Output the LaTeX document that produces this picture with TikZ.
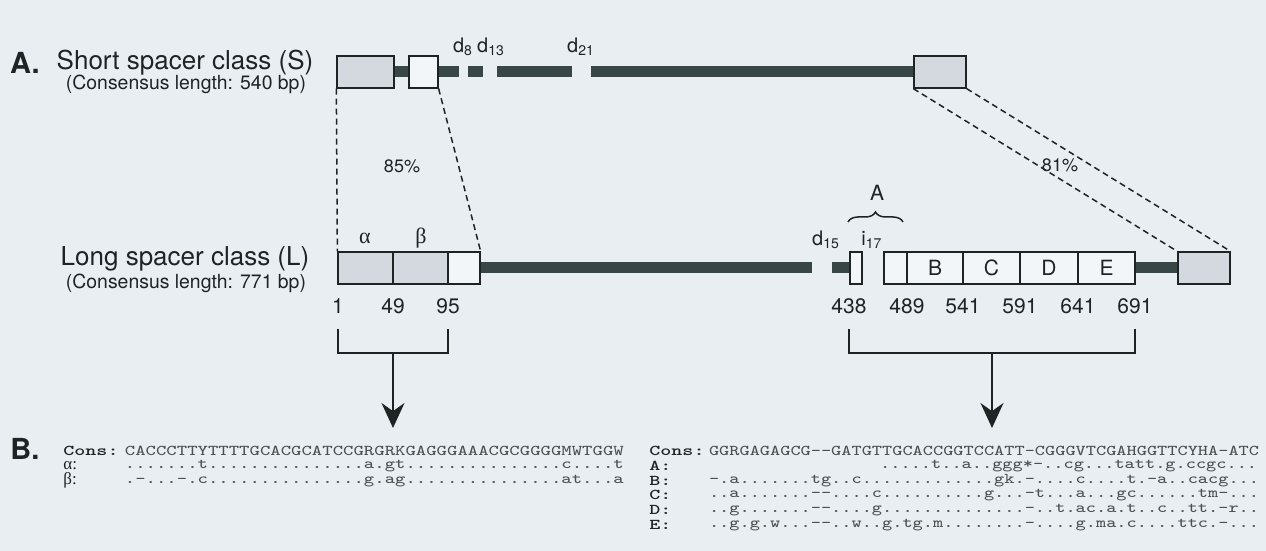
\documentclass[tikz,border=0pt]{standalone}
\usepackage{fontspec}
\setmainfont{TeX Gyre Heros}
\newfontfamily\greekfont{Liberation Serif}
\usepackage{graphicx}
\usepackage{xcolor}
\definecolor{bgpaper}{RGB}{233,238,242}
\definecolor{boxgrey}{RGB}{211,217,222}
\definecolor{boxlight}{RGB}{243,246,248}
\definecolor{barslate}{RGB}{56,70,70}
\definecolor{inkdark}{RGB}{30,36,36}
\usetikzlibrary{arrows.meta,positioning,decorations.pathreplacing}
\newcommand{\seqL}[1]{\scalebox{1.305}[1]{#1}}
\newcommand{\seqR}[1]{\scalebox{1.279}[1]{#1}}
\newcommand{\seqK}[1]{\scalebox{1.4}[1]{#1}}

\begin{document}
\begin{tikzpicture}[x=0.5pt, y=-0.5pt,
  greybox/.style={rectangle, draw=inkdark, line width=0.65pt, fill=boxgrey,
                  minimum height=16pt, inner sep=0pt,
                  font=\fontsize{10.5}{12}\selectfont, text=inkdark},
  lightbox/.style={greybox, fill=boxlight},
  bar/.style={line width=5.5pt, draw=barslate},
  simil/.style={dash pattern=on 3pt off 2pt, line width=0.75pt, draw=inkdark},
  brk/.style={line width=0.75pt, draw=inkdark},
  pointer/.style={-{Stealth[length=12.5pt, width=11.5pt]}, line width=0.75pt, draw=inkdark},
  panel/.style={font=\fontsize{14.5}{16}\selectfont\bfseries, text=inkdark},
  clsname/.style={font=\fontsize{13}{15}\selectfont, text=inkdark},
  clslen/.style={font=\fontsize{9.7}{11}\selectfont, text=inkdark},
  sitelab/.style={font=\fontsize{10}{12}\selectfont, text=inkdark, inner sep=1pt},
  numlab/.style={font=\fontsize{10.5}{12}\selectfont, text=inkdark, inner sep=1pt},
  pctlab/.style={font=\fontsize{9}{11}\selectfont, text=inkdark},
  seqlab/.style={anchor=west, inner sep=0pt, font=\fontsize{7.5}{8}\selectfont\ttfamily\bfseries, text=inkdark},
  seqrow/.style={anchor=west, inner sep=0pt, font=\fontsize{7.5}{8}\selectfont\ttfamily, text=inkdark!80}
]
\fill[bgpaper] (0,0) rectangle (1266,551);
\useasboundingbox (0,0) rectangle (1266,551);

% Panel labels
\node[panel] (pa) at (25,63)  {A.};
\node[panel] (pb) at (25,449) {B.};

% Class names
\node[clsname] (sname) at (185,63)  {Short spacer class (S)};
\node[clslen]  (slen)  at (186,84)  {(Consensus length: 540 bp)};
\node[clsname] (lname) at (185,259) {Long spacer class (L)};
\node[clslen]  (llen)  at (186,283) {(Consensus length: 771 bp)};

% Short spacer boxes
\node[greybox,  minimum width=28.5pt] (s1) at (365.5,72) {};
\node[lightbox, minimum width=14.5pt] (s2) at (423.5,72) {};
\node[greybox,  minimum width=26pt]   (s3) at (940,72)   {};

% Short spacer bar with deletions
\coordinate (sd8a)  at (459,72);
\coordinate (sd8b)  at (468,72);
\coordinate (sd13a) at (483,72);
\coordinate (sd13b) at (497,72);
\coordinate (sd21a) at (572,72);
\coordinate (sd21b) at (591,72);
\draw[bar] (s1.east) -- (s2.west);
\draw[bar] (s2.east) -- (sd8a);
\draw[bar] (sd8b) -- (sd13a);
\draw[bar] (sd13b) -- (sd21a);
\draw[bar] (sd21b) -- (s3.west);
\node[sitelab] (d8)  at (463,47) {d\textsubscript{8}};
\node[sitelab] (d13) at (491,47) {d\textsubscript{13}};
\node[sitelab] (d21) at (581,47) {d\textsubscript{21}};

% Long spacer boxes
\node[greybox,  minimum width=27.5pt] (l1) at (365.5,268) {};
\node[greybox,  minimum width=27.5pt] (l2) at (420.5,268) {};
\node[lightbox, minimum width=16pt]   (l3) at (464,268)   {};
\node[lightbox, minimum width=6pt]    (li) at (856,268)   {};
\node[lightbox, minimum width=11.5pt] (la) at (895.5,268) {};
\node[lightbox, minimum width=28pt]   (lb) at (935,268)   {B};
\node[lightbox, minimum width=28.5pt] (lc) at (991.5,268) {C};
\node[lightbox, minimum width=29pt]   (ld) at (1049,268)  {D};
\node[lightbox, minimum width=28.5pt] (le) at (1106.5,268) {E};
\node[greybox,  minimum width=26pt]   (lf) at (1204,268)  {};

% Long spacer bar
\coordinate (ld15a) at (812,268);
\coordinate (ld15b) at (832,268);
\draw[bar] (l3.east) -- (ld15a);
\draw[bar] (ld15b) -- (li.west);
\draw[bar] (le.east) -- (lf.west);
\node[sitelab] (d15) at (826,240) {d\textsubscript{15}};
\node[sitelab] (i17) at (872,240) {i\textsubscript{17}};
\node[sitelab, font=\fontsize{11}{12}\selectfont\greekfont] (alab) at (365,238) {α};
\node[sitelab, font=\fontsize{11}{12}\selectfont\greekfont] (blab) at (421,238) {β};

% Region A brace
\coordinate (bra) at (848,222);
\coordinate (brb) at (903,222);
\draw[brk, decorate, decoration={brace, amplitude=5pt}] (bra) -- (brb);
\node[numlab] (rega) at (877,193) {A};

% Similarity links
\draw[simil] (s1.south west) -- (l1.north west);
\draw[simil] (s2.south east) -- (l3.north east);
\draw[simil] (s3.south west) -- (lf.north west);
\draw[simil] (s3.south east) -- (lf.north east);
\node[pctlab] (p85) at (402,166)  {85\%};
\node[pctlab] (p81) at (1060,165) {81\%};

% Positions
\node[numlab] (n1)   at (338,306)  {1};
\node[numlab] (n49)  at (393,306)  {49};
\node[numlab] (n95)  at (448,306)  {95};
\node[numlab] (n438) at (849,306)  {438};
\node[numlab] (n489) at (907,306)  {489};
\node[numlab] (n541) at (963,306)  {541};
\node[numlab] (n591) at (1020,306) {591};
\node[numlab] (n641) at (1078,306) {641};
\node[numlab] (n691) at (1135,306) {691};

% Brackets and arrows
\coordinate (lbkl) at (338,329);
\coordinate (lbkr) at (448,329);
\coordinate (lbkm) at (393,353);
\coordinate (ltip) at (393,428);
\draw[brk] (lbkl) |- (lbkm) -| (lbkr);
\draw[pointer] (lbkm) -- (ltip);
\coordinate (rbkl) at (849,329);
\coordinate (rbkr) at (1135,329);
\coordinate (rbkm) at (992,353);
\coordinate (rtip) at (992,428);
\draw[brk] (rbkl) |- (rbkm) -| (rbkr);
\draw[pointer] (rbkm) -- (rtip);

% Alignment, left block
\node[seqlab] (lcl) at (63,451)   {\seqK{Cons:}};
\node[seqlab, font=\fontsize{8.5}{9}\selectfont\greekfont] (lal) at (63,465.8) {α:};
\node[seqlab, font=\fontsize{8.5}{9}\selectfont\greekfont] (lbl) at (63,480.6) {β:};
\node[seqrow] (lcs) at (124.5,451)   {\seqL{CACCCTTYTTTTGCACGCATCCGRGRKGAGGGAAACGCGGGGMWTGGW}};
\node[seqrow] (las) at (124.5,465.8) {\seqL{.......t...............a.gt...............c....t}};
\node[seqrow] (lbs) at (124.5,480.6) {\seqL{.-...-.c...............g.ag...............at...a}};

% Alignment, right block
\node[seqlab] (rcl) at (649,451)   {\seqK{Cons:}};
\node[seqlab] (ral) at (649,465.8) {\seqK{A:}};
\node[seqlab] (rbl) at (649,480.6) {\seqK{B:}};
\node[seqlab] (rcc) at (649,495.4) {\seqK{C:}};
\node[seqlab] (rdl) at (649,510.2) {\seqK{D:}};
\node[seqlab] (rel) at (649,525)   {\seqK{E:}};
\node[seqrow] (rcs)  at (708.6,451)   {\seqR{GGRGAGAGCG-{}-GATGTTGCACCGGTCCATT-CGGGVTCGAHGGTTCYHA-ATC}};
\node[seqrow] (ras)  at (879.8,465.8) {\seqR{.....t..a..ggg*-..cg...tatt.g.ccgc...}};
\node[seqrow] (rbs)  at (708.6,480.6) {\seqR{-.a.......tg..c.............gk.-....c....t.-a..cacg...}};
\node[seqrow] (rccs) at (708.6,495.4) {\seqR{..a.......-{}-....c..........g...-t...a...gc......tm-...}};
\node[seqrow] (rds)  at (708.6,510.2) {\seqR{..g.......-{}-....g..............-..t.ac.a.t..c..tt.-r..}};
\node[seqrow] (res)  at (708.6,525)   {\seqR{..g.g.w...-{}-..w..g.tg.m........-....g.ma.c....ttc.-...}};
\end{tikzpicture}
\end{document}
